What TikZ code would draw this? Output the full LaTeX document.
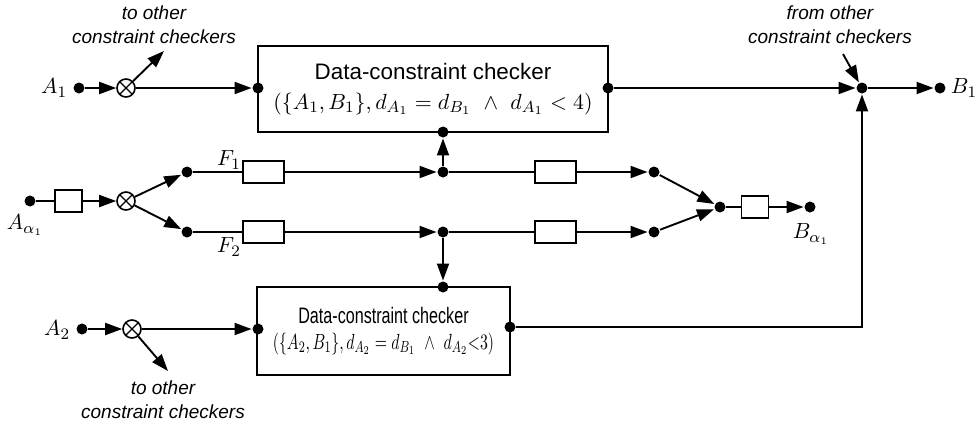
\documentclass[tikz,border=0pt]{standalone}
\usepackage{fontspec}
\usepackage{graphicx}
\setsansfont{Liberation Sans}
\usetikzlibrary{arrows.meta}
\begin{document}
\begin{tikzpicture}[x=0.5pt,y=-0.5pt,
  line width=0.95pt,
  >={Triangle[length=8.5pt,width=6pt]},
  dot/.style={circle,fill,inner sep=0pt,minimum size=5.5pt},
  otimes/.style={circle,draw,fill=white,inner sep=0pt,minimum size=9pt,line width=0.8pt,
    path picture={\draw[line width=0.6pt]
      (path picture bounding box.north west)--(path picture bounding box.south east)
      (path picture bounding box.south west)--(path picture bounding box.north east);}},
  delay/.style={draw,fill=white,inner sep=0pt,minimum width=20.5pt,minimum height=11pt},
  sdelay/.style={draw,fill=white,inner sep=0pt,minimum width=13.5pt,minimum height=11pt},
  checker/.style={draw,minimum width=175pt,minimum height=43pt,align=center,inner sep=0pt,
    font=\fontsize{11.2}{13}\selectfont},
  lbl/.style={font=\fontsize{11}{13}\selectfont,inner sep=1pt},
  note/.style={align=center,font=\sffamily\itshape\fontsize{9.5}{12}\selectfont,inner sep=0pt}
]
\useasboundingbox (0,0) rectangle (980,425);

% checker boxes
\node[checker] (top) at (433,89) {\sffamily Data-constraint checker\\[2pt]
  $(\{A_1,B_1\},d_{A_1}=d_{B_1}\ \wedge\ d_{A_1}<4)$};
\node[checker,minimum width=126.5pt,minimum height=44pt] (bot) at (383.5,331) {\scalebox{0.72}[1]{\begin{tabular}{@{}c@{}}\sffamily Data-constraint checker\\[0pt]
  $(\{A_2,B_1\},d_{A_2}=d_{B_1}\ \wedge\ d_{A_2}{<}3)$\end{tabular}}};

% dots on boxes
\node[dot] (tl) at (258,88) {};
\node[dot] (tr) at (608,88) {};
\node[dot] (tb) at (443,132) {};
\node[dot] (bl) at (258,329) {};
\node[dot] (br) at (510,327) {};
\node[dot] (bt) at (443,287) {};

% A1 input
\node[dot] (a1) at (79,88) {};
\node[lbl,anchor=east] (a1l) at (70,88) {$A_1$};
\node[otimes] (x1) at (126,88) {};
\coordinate (o1) at (164,51);
\node[note] (n1) at (154,25) {to other\\constraint checkers};
\draw[->] (a1) -- (x1);
\draw[->] (x1) -- (tl);
\draw[->] (x1) -- (o1);

% B1 output
\node[dot] (j) at (862,88) {};
\node[dot] (b1) at (940,88) {};
\node[lbl,anchor=west] (b1l) at (948,88) {$B_1$};
\coordinate (o2) at (843,54);
\node[note] (n2) at (830,25) {from other\\constraint checkers};
\draw[->] (tr) -- (j);
\draw[->] (o2) -- (j);
\draw[->] (j) -- (b1);
\draw[->] (br) -| (j);

% A alpha1
\node[dot] (aa) at (30,201) {};
\node[lbl] (aal) at (25,225) {$A_{\alpha_1}$};
\node[sdelay] (d0) at (68.5,201) {};
\node[otimes] (x2) at (126,201) {};
\draw (aa) -- (d0);
\draw[->] (d0) -- (x2);
\node[dot] (f1) at (187,172) {};
\node[dot] (f2) at (187,232) {};
\draw[->] (x2) -- (f1);
\draw[->] (x2) -- (f2);
\node[lbl] (f1l) at (229,160) {$F_1$};
\node[lbl] (f2l) at (229,247) {$F_2$};
\node[delay] (d1) at (263.5,172) {};
\node[delay] (d2) at (263.5,232) {};
\node[dot] (j1) at (443,172) {};
\node[dot] (j2) at (443,232) {};
\draw (f1) -- (d1);
\draw[->] (d1) -- (j1);
\draw (f2) -- (d2);
\draw[->] (d2) -- (j2);
\draw[->] (j1) -- (tb);
\draw[->] (j2) -- (bt);
\node[delay] (d3) at (555.5,172) {};
\node[delay] (d4) at (555.5,232) {};
\node[dot] (e1) at (654,172) {};
\node[dot] (e2) at (654,232) {};
\draw (j1) -- (d3);
\draw[->] (d3) -- (e1);
\draw (j2) -- (d4);
\draw[->] (d4) -- (e2);
\node[dot] (m) at (720,207) {};
\draw[->] (e1) -- (m);
\draw[->] (e2) -- (m);
\node[sdelay] (d5) at (755,207) {};
\node[dot] (ba) at (810,207) {};
\node[lbl] (bal) at (811,234) {$B_{\alpha_1}$};
\draw (m) -- (d5);
\draw[->] (d5) -- (ba);

% A2 input
\node[dot] (a2) at (82,329) {};
\node[lbl,anchor=east] (a2l) at (73,330) {$A_2$};
\node[otimes] (x3) at (132,329) {};
\coordinate (o3) at (168,371);
\node[note] (n3) at (163,400) {to other\\constraint checkers};
\draw[->] (a2) -- (x3);
\draw[->] (x3) -- (bl);
\draw[->] (x3) -- (o3);
\end{tikzpicture}
\end{document}
